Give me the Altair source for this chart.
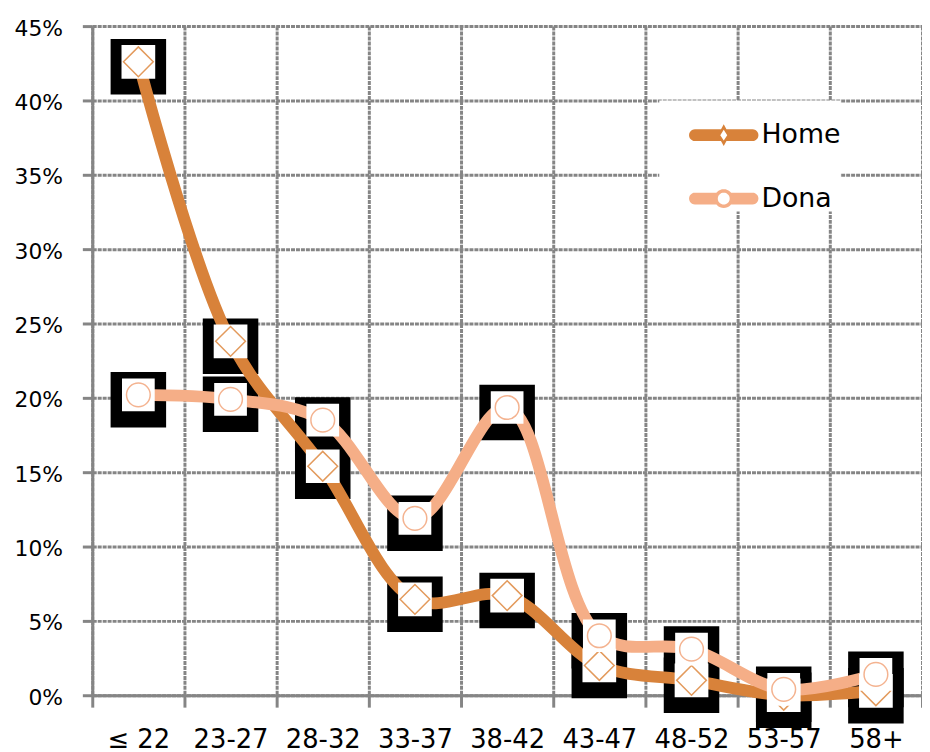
import math
import altair as alt
import pandas as pd

# ---- data ----
categories = ["≤ 22", "23-27", "28-32", "33-37", "38-42", "43-47", "48-52", "53-57", "58+"]
home = [42.6, 23.8, 15.4, 6.45, 6.7, 2.0, 1.0, 0.0, 0.3]
dona = [20.2, 19.9, 18.5, 11.9, 19.35, 4.0, 3.1, 0.4, 1.4]
series_names = ["Home", "Dona"]
series_colors = ["#D8823A", "#F5AE87"]
y_ticks = [0, 5, 10, 15, 20, 25, 30, 35, 40, 45]

rows = []
for name, vals in zip(series_names, [home, dona]):
    for c, v in zip(categories, vals):
        rows.append({"age": c, "pct": v, "serie": name})
df = pd.DataFrame(rows)

# ---- legend symbol paths (unit coords, scaled by sqrt(size)/2 = 35px) ----
U = 35.0


def poly(pts):
    return "M" + "L".join(f"{x:.3f},{y:.3f}" for x, y in pts) + "Z"


def stadium(half_len, r, n=12):
    pts = []
    for i in range(n + 1):
        a = -math.pi / 2 + math.pi * i / n
        pts.append((half_len + r * math.cos(a), r * math.sin(a)))
    for i in range(n + 1):
        a = math.pi / 2 + math.pi * i / n
        pts.append((-half_len + r * math.cos(a), r * math.sin(a)))
    return pts


def circle(r, n=32, cw=True):
    pts = []
    for i in range(n):
        a = 2 * math.pi * i / n
        if not cw:
            a = -a
        pts.append((r * math.cos(a), r * math.sin(a)))
    return pts


def diamond(w, h, cw=True):
    if cw:
        return [(0, -h), (w, 0), (0, h), (-w, 0)]
    return [(0, -h), (-w, 0), (0, h), (w, 0)]


bar = poly(stadium((35 - 6) / U, 6 / U))
home_sym = bar + poly(diamond(6 / U, 11 / U)) + 2 * poly(diamond(3.5 / U, 5.5 / U, cw=False))
dona_sym = bar + poly(circle(9.5 / U)) + 2 * poly(circle(6 / U, cw=False))

AX = "#858585"
FONT = "DejaVu Sans"

x_enc = alt.X(
    "age:N",
    sort=categories,
    bandPosition=0.5,
    scale=alt.Scale(type="band", domain=categories, paddingInner=0, paddingOuter=0),
    axis=alt.Axis(
        title=None, labelAngle=0, tickBand="extent", grid=True,
        gridColor=AX, gridWidth=3, gridDash=[4, 1],
        domainColor=AX, domainWidth=3, tickColor=AX, tickWidth=3, tickSize=12,
        labelFont=FONT, labelFontSize=26, labelColor="black", labelPadding=20,
    ),
)
y_enc = alt.Y(
    "pct:Q",
    scale=alt.Scale(domain=[0, 45], nice=False, zero=True),
    axis=alt.Axis(
        title=None, values=y_ticks, labelExpr="datum.value + '%'", grid=True,
        gridColor=AX, gridWidth=3, gridDash=[4, 1],
        domainColor=AX, domainWidth=3, tickColor=AX, tickWidth=3, tickSize=10,
        labelFont=FONT, labelFontSize=22, labelColor="black", labelPadding=20,
        labelOffset=2,
    ),
)

legend_def = alt.Legend(
    title=None, orient="none", legendX=572, legendY=75, padding=0,
    rowPadding=16, labelOffset=3, labelFont=FONT, labelFontSize=27,
    labelColor="black", symbolSize=4900, fillColor="white",
    symbolStrokeWidth=0, symbolOpacity=1, symbolOffset=30,
    labelExpr="datum.label + '\u2003'",
)

color_scale = alt.Scale(domain=series_names, range=series_colors)

base = alt.Chart(df)

# legend-only layer: no marks drawn, it just carries the colour+shape legend
legend_layer = base.transform_filter("false").mark_point(
    filled=True, opacity=1, size=4900, strokeWidth=0
).encode(
    x=x_enc, y=y_enc,
    color=alt.Color("serie:N", scale=color_scale, legend=legend_def),
    shape=alt.Shape("serie:N", scale=alt.Scale(domain=series_names, range=[home_sym, dona_sym]), legend=legend_def),
)

black_boxes = base.mark_square(size=56 * 56, color="black", opacity=1, yOffset=5, strokeWidth=0).encode(x=x_enc, y=y_enc)


def line_for(name):
    return base.transform_filter(alt.datum.serie == name).mark_line(
        strokeWidth=12, interpolate="catmull-rom", strokeCap="round", strokeJoin="round"
    ).encode(x=x_enc, y=y_enc, color=alt.Color("serie:N", scale=color_scale, legend=None))


def white_for(name, s):
    return base.transform_filter(alt.datum.serie == name).mark_square(
        size=s * s, color="white", opacity=1, strokeWidth=0
    ).encode(x=x_enc, y=y_enc)


home_marker = base.transform_filter(alt.datum.serie == "Home").mark_point(
    shape="diamond", size=900, filled=False, stroke="#E39A5C", strokeWidth=1.5, opacity=1
).encode(x=x_enc, y=y_enc)
dona_marker = base.transform_filter(alt.datum.serie == "Dona").mark_point(
    shape="circle", size=572, filled=False, stroke="#F4B390", strokeWidth=1.5, opacity=1
).encode(x=x_enc, y=y_enc)

chart = alt.layer(
    legend_layer,
    black_boxes,
    line_for("Home"),
    line_for("Dona"),
    white_for("Home", 34),
    home_marker,
    white_for("Dona", 33),
    dona_marker,
).properties(
    width=837,
    height=675,
    autosize=alt.AutoSizeParams(type="none"),
    padding={"left": 85, "top": 15, "right": 0, "bottom": 54},
    background="white",
).configure_view(strokeWidth=0)

chart.save("out.html", embed_options={"renderer": "svg", "actions": False})
